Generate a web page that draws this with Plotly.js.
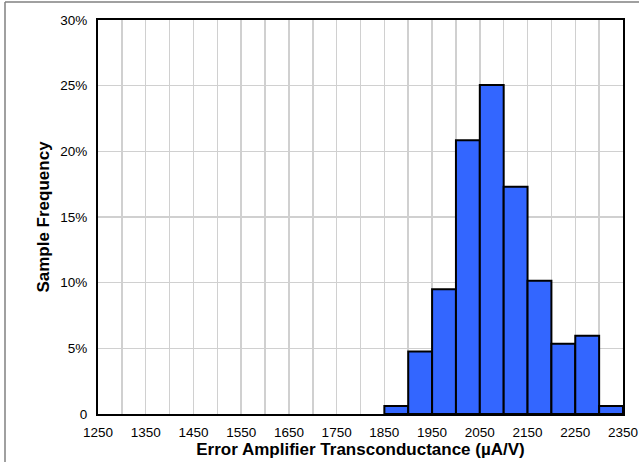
<!DOCTYPE html>
<html><head><meta charset="utf-8">
<script src="https://cdn.plot.ly/plotly-3.0.1.min.js"></script>
<style>html,body{margin:0;padding:0;background:#fff;}#chart{width:639px;height:462px;}</style>
</head><body><div id="chart"></div>
<script>
const binStart = [1850, 1900, 1950, 2000, 2050, 2100, 2150, 2200, 2250, 2300];
const frequency = [0.6, 4.75, 9.5, 20.85, 25.05, 17.3, 10.15, 5.35, 5.95, 0.6];
const binWidth = 50;
const xTickVals = [1250,1300,1350,1400,1450,1500,1550,1600,1650,1700,1750,1800,1850,1900,1950,2000,2050,2100,2150,2200,2250,2300,2350];
const xTickText = ['1250','','1350','','1450','','1550','','1650','','1750','','1850','','1950','','2050','','2150','','2250','','2350'];
const yTickVals = [0,5,10,15,20,25,30];
const yTickText = ['0','5%','10%','15%','20%','25%','30%'];

const fam = 'Liberation Sans, Arial, sans-serif';
const font = {family: fam, size: 13.5, color: '#000'};
const titleFont = {family: fam, size: 17, color: '#000'};
const W = 639, H = 462, L = 98, R = 16, T = 20, B = 48;
const pw = W - L - R, ph = H - T - B;

Plotly.newPlot('chart', [{
  type: 'bar',
  x: binStart,
  y: frequency,
  width: binStart.map(() => binWidth),
  offset: 0,
  marker: {color: '#3366FF', line: {color: '#000', width: 2}},
  hoverinfo: 'skip'
}], {
  width: W, height: H,
  margin: {l: L, r: R, t: T, b: B, pad: 0},
  paper_bgcolor: '#fff', plot_bgcolor: '#fff',
  font: font,
  showlegend: false,
  bargap: 0,
  xaxis: {
    range: [1250, 2350], tickvals: xTickVals, ticktext: xTickText,
    showgrid: true, gridcolor: '#D0D0D0', gridwidth: 1.5,
    ticks: '', tickfont: font, zeroline: false, ticklabelstandoff: 5,
    showline: true, linecolor: '#000', linewidth: 2, mirror: true,
    title: {text: '<b>Error Amplifier Transconductance (µA/V)</b>', font: titleFont, standoff: 0},
    fixedrange: true
  },
  yaxis: {
    range: [0, 30], tickvals: yTickVals, ticktext: yTickText,
    showgrid: true, gridcolor: '#D0D0D0', gridwidth: 1.5,
    ticks: '', tickfont: font, zeroline: false, ticklabelstandoff: 6,
    showline: true, linecolor: '#000', linewidth: 2, mirror: true,
    title: {text: '<b>Sample Frequency</b>', font: titleFont, standoff: 6},
    fixedrange: true
  },
  shapes: [
    {type: 'line', xref: 'paper', yref: 'paper', x0: (5 - L) / pw, x1: (5 - L) / pw, y0: 1 + (T - 2) / ph, y1: -B / ph - 0.01, line: {color: '#808080', width: 1.5}},
    {type: 'line', xref: 'paper', yref: 'paper', x0: (5 - L) / pw, x1: 1 + R / pw + 0.01, y0: 1 + (T - 2) / ph, y1: 1 + (T - 2) / ph, line: {color: '#808080', width: 1.5}}
  ]
}, {staticPlot: true, displayModeBar: false});
</script></body></html>
